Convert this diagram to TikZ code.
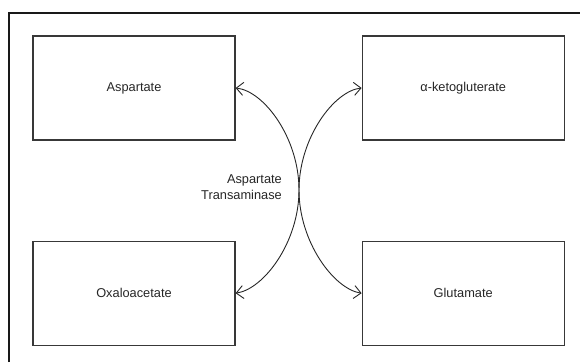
\documentclass[tikz,border=0pt]{standalone}
\usepackage{fontspec}
\setmainfont{Liberation Sans}
\usetikzlibrary{positioning,arrows.meta}

\begin{document}
\begin{tikzpicture}[
    x=1pt, y=-1pt,
    every node/.style={font=\fontsize{12.8}{16}\selectfont, text=black!85},
    molBox/.style={rectangle, draw=black!78, line width=1.2pt, minimum width=202pt, minimum height=104pt, inner sep=0pt},
    reaction/.style={{Straight Barb[length=7pt,width=13pt]}-{Straight Barb[length=7pt,width=13pt]}, line width=0.9pt, black!85}
  ]
  \useasboundingbox (0,0) rectangle (580,362);

  % Frame
  \draw[line width=2pt, black!90] (8.5,362) -- (8.5,12.5) -- (580,12.5);

  % Boxes
  \node[molBox] (asp) at (134,88) {Aspartate};
  \node[molBox, right=126pt of asp] (akg) {α-ketogluterate};
  \node[molBox, below=100pt of asp] (oxa) {Oxaloacetate};
  \node[molBox, below=100pt of akg] (glu) {Glutamate};

  % Enzyme
  \node[align=right, anchor=east, inner sep=0pt] (ast) at (282,187) {Aspartate\\Transaminase};

  % Arrows
  \draw[reaction] (asp.east) .. controls (264,91) and (299,138) .. (299,190)
    .. controls (299,242) and (264,289) .. (oxa.east);
  \draw[reaction] (akg.west) .. controls (334,91) and (299,138) .. (299,190)
    .. controls (299,242) and (334,289) .. (glu.west);

\end{tikzpicture}
\end{document}
